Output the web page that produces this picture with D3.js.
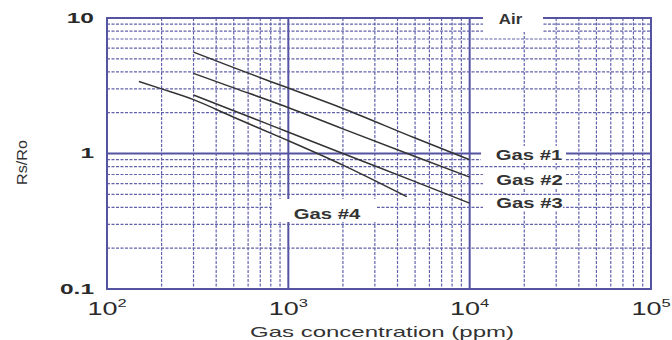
<!DOCTYPE html>
<html>
<head>
<meta charset="utf-8">
<script src="https://cdn.jsdelivr.net/npm/d3@7"></script>
<style>
  html, body { margin: 0; padding: 0; background: #fff; }
  svg { display: block; font-family: "Liberation Sans", Arial, sans-serif; }
</style>
</head>
<body>
<svg id="chart" width="672" height="340"></svg>
<script>
// ---- data ----
const xDomain = [100, 100000];           // Gas concentration (ppm)
const yDomain = [0.1, 10];               // Rs/Ro
const xTickExponents = [2, 3, 4, 5];
const yTickLabels = ["10", "1", "0.1"];
const yTickValues = [10, 1, 0.1];

const gas1X = [300, 500, 900, 2000, 5000, 10000];
const gas1Y = [5.6, 4.3, 3.2, 2.15, 1.3, 0.9];
const gas2X = [300, 500, 900, 2000, 5000, 10000];
const gas2Y = [3.9, 3.05, 2.3, 1.52, 0.95, 0.67];
const gas3X = [300, 500, 900, 2000, 5000, 10000];
const gas3Y = [2.7, 2.07, 1.52, 1.0, 0.62, 0.43];
const gas4X = [150, 200, 300, 500, 900, 2000, 3000, 4500];
const gas4Y = [3.4, 3.0, 2.5, 1.85, 1.32, 0.82, 0.63, 0.48];

const seriesNames = ["Gas #1", "Gas #2", "Gas #3", "Gas #4"];
const airLabel = "Air";
const xTitle = "Gas concentration (ppm)";
const yTitle = "Rs/Ro";

// ---- layout ----
const svg = d3.select("#chart");
const plot = { left: 107, right: 651, top: 18, bottom: 289 };
const x = d3.scaleLog().domain(xDomain).range([plot.left, plot.right]);
const y = d3.scaleLog().domain(yDomain).range([plot.bottom, plot.top]);

const gridMajor = "#5454a2";
const gridMinor = "#6262ac";
const textColor = "#333";

const isMajor = v => Math.abs(Math.log10(v) - Math.round(Math.log10(v))) < 1e-9;

// grid
const grid = svg.append("g");
const xt = x.ticks().filter(v => v > xDomain[0] && v < xDomain[1]);
const yt = y.ticks().filter(v => v > yDomain[0] && v < yDomain[1]);

grid.selectAll("line.v").data(xt).join("line")
  .attr("x1", d => x(d)).attr("x2", d => x(d))
  .attr("y1", plot.top).attr("y2", plot.bottom)
  .attr("stroke", d => isMajor(d) ? gridMajor : gridMinor)
  .attr("stroke-width", d => isMajor(d) ? 2 : 1.2)
  .attr("stroke-dasharray", d => isMajor(d) ? null : "3,1.5");

grid.selectAll("line.h").data(yt).join("line")
  .attr("y1", d => y(d)).attr("y2", d => y(d))
  .attr("x1", plot.left).attr("x2", plot.right)
  .attr("stroke", d => isMajor(d) ? gridMajor : gridMinor)
  .attr("stroke-width", d => isMajor(d) ? 2 : 1.2)
  .attr("stroke-dasharray", d => isMajor(d) ? null : "3,1.5");

// frame
svg.append("rect")
  .attr("x", plot.left).attr("y", plot.top)
  .attr("width", plot.right - plot.left).attr("height", plot.bottom - plot.top)
  .attr("fill", "none").attr("stroke", gridMajor).attr("stroke-width", 2);

// white label backgrounds
const boxes = [
  [483, 3, 60, 29],
  [481, 146, 85, 17],
  [483, 171, 83, 17],
  [483, 195, 80, 16],
  [272, 199, 104, 23]
];
svg.append("g").selectAll("rect").data(boxes).join("rect")
  .attr("x", d => d[0]).attr("y", d => d[1])
  .attr("width", d => d[2]).attr("height", d => d[3])
  .attr("fill", "#fff");

// curves
const series = [
  [gas1X, gas1Y], [gas2X, gas2Y], [gas3X, gas3Y], [gas4X, gas4Y]
].map(([xs, ys]) => xs.map((v, i) => [v, ys[i]]));

const line = d3.line()
  .x(d => x(d[0])).y(d => y(d[1]))
  .curve(d3.curveMonotoneX);

svg.append("g").selectAll("path").data(series).join("path")
  .attr("d", line)
  .attr("fill", "none")
  .attr("stroke", "#333")
  .attr("stroke-width", 1.5);

// text helper
function label(px, py, txt, opt) {
  const t = svg.append("text")
    .attr("transform", `translate(${px},${py}) scale(${opt.sx || 1},1)`)
    .attr("text-anchor", opt.anchor || "start")
    .attr("font-size", opt.size)
    .attr("font-weight", opt.weight || "normal")
    .attr("fill", opt.fill || textColor)
    .text(txt);
  return t;
}

// y tick labels
yTickValues.forEach((v, i) => {
  label(94, y(v) + 4.5, yTickLabels[i], { size: 14, weight: "bold", sx: 1.75, anchor: "end", fill: "#2a2a2a" });
});

// x tick labels (10^n)
xTickExponents.forEach(e => {
  const t = svg.append("text")
    .attr("transform", `translate(${x(Math.pow(10, e))},315) scale(1.5,1)`)
    .attr("text-anchor", "middle")
    .attr("font-size", 18)
    .attr("fill", "#2a2a2a");
  t.append("tspan").text("10");
  t.append("tspan").attr("font-size", 11).attr("dy", -8).text(String(e));
});

// axis titles
label(382, 337, xTitle, { size: 15, sx: 1.6, anchor: "middle" });
svg.append("text")
  .attr("transform", "translate(27,162.5) rotate(-90) scale(1.25,1.15)")
  .attr("text-anchor", "middle")
  .attr("font-size", 13)
  .attr("fill", textColor)
  .text(yTitle);

// legend labels
label(510.5, 24, airLabel, { size: 14, weight: "bold", sx: 1.2, anchor: "middle" });
label(529, 160, seriesNames[0], { size: 14, weight: "bold", sx: 1.45, anchor: "middle" });
label(529.5, 185, seriesNames[1], { size: 14, weight: "bold", sx: 1.45, anchor: "middle" });
label(529.5, 208, seriesNames[2], { size: 14, weight: "bold", sx: 1.45, anchor: "middle" });
label(327, 219, seriesNames[3], { size: 14, weight: "bold", sx: 1.45, anchor: "middle" });
</script>
</body>
</html>
